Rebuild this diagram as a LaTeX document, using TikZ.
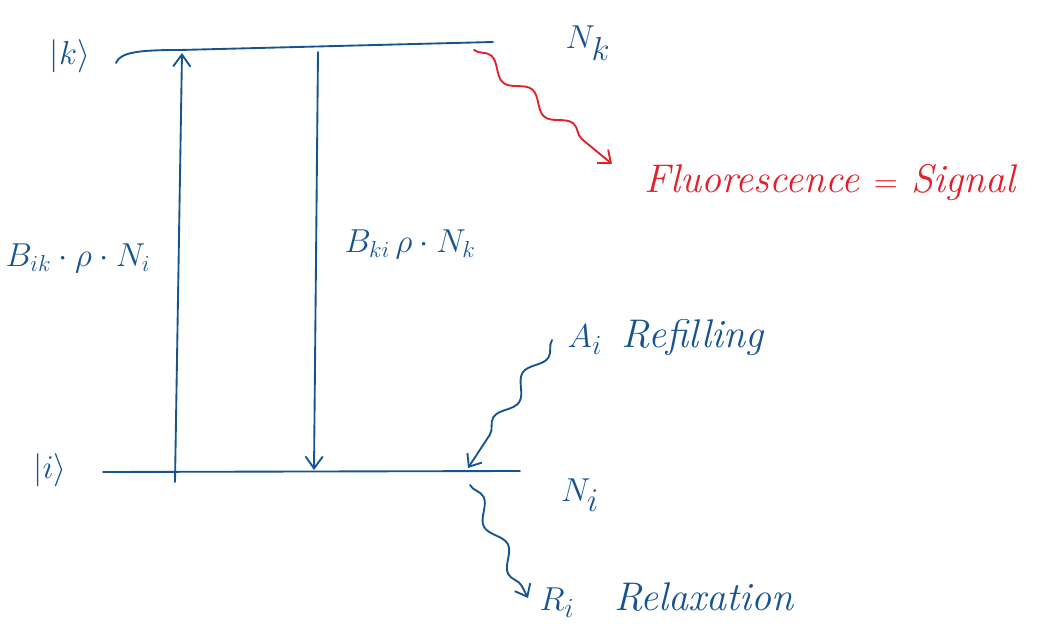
\documentclass[tikz,border=0pt]{standalone}
\usetikzlibrary{decorations.pathmorphing,arrows.meta}
\definecolor{inkblue}{RGB}{22,84,145}
\definecolor{inkred}{RGB}{226,32,44}
\begin{document}
\begin{tikzpicture}[x=0.75pt,y=-0.75pt,
  level/.style={draw=inkblue,line width=1.4pt,line cap=round},
  trans/.style={draw=inkblue,line width=1.4pt,line cap=round,-{Straight Barb[length=9pt,width=13pt]}},
  wavy/.style={line width=1.4pt,line cap=round,decorate,
    decoration={snake,amplitude=5pt,segment length=40pt,post length=10pt},
    -{Straight Barb[length=8pt,width=13pt]}},
  lbl/.style={text=inkblue,font=\fontsize{24}{28}\selectfont},
  biglbl/.style={text=inkblue,font=\fontsize{30}{34}\selectfont},
  rlbl/.style={text=inkred,font=\fontsize{30}{34}\selectfont\itshape}]
\useasboundingbox (0,0) rectangle (1061,634);
% levels
\coordinate (k1) at (116,63);
\coordinate (k2) at (493,42);
\coordinate (i1) at (103,472);
\coordinate (i2) at (520,471);
\draw[level] (k1) .. controls (120,52) and (140,50) .. (180,50) -- (k2);
\draw[level] (i1) -- (i2);
\node[biglbl] (klab) at (70,56) {$|k\rangle$};
\node[biglbl] (ilab) at (50,470) {$|i\rangle$};
\node[biglbl,font=\fontsize{34}{38}\selectfont] (Nk) at (588,43) {$N_k$};
\node[biglbl,font=\fontsize{34}{38}\selectfont] (Ni) at (580,495) {$N_i$};
% transitions
\coordinate (up0) at (175,482);
\coordinate (up1) at (182,53);
\coordinate (dn0) at (318,52);
\coordinate (dn1) at (314,470);
\draw[trans] (up0) -- (up1);
\draw[trans] (dn0) -- (dn1);
\node[lbl] (Bik) at (78,258) {$B_{ik}\cdot\rho\cdot N_i$};
\node[lbl,font=\fontsize{26}{30}\selectfont] (Bki) at (410,244) {$B_{ki}\,\rho\cdot N_k$};
% fluorescence
\coordinate (f0) at (474,50);
\coordinate (f1) at (612,164);
\draw[wavy,draw=inkred] (f0) -- (f1);
\node[rlbl,anchor=west] (fl) at (640,183) {Fluorescence $=$ Signal};
% refilling
\coordinate (r0) at (552,340);
\coordinate (r1) at (468,468);
\draw[wavy,draw=inkblue] (r0) -- (r1);
\node[biglbl,anchor=west] (Ai) at (563,338) {$A_i$\enspace\textit{Refilling}};
% relaxation
\coordinate (x0) at (470,485);
\coordinate (x1) at (528,598);
\draw[wavy,draw=inkblue] (x0) -- (x1);
\node[biglbl,anchor=west] (Ri) at (535,600) {$R_i$\quad\textit{Relaxation}};
\end{tikzpicture}
\end{document}
